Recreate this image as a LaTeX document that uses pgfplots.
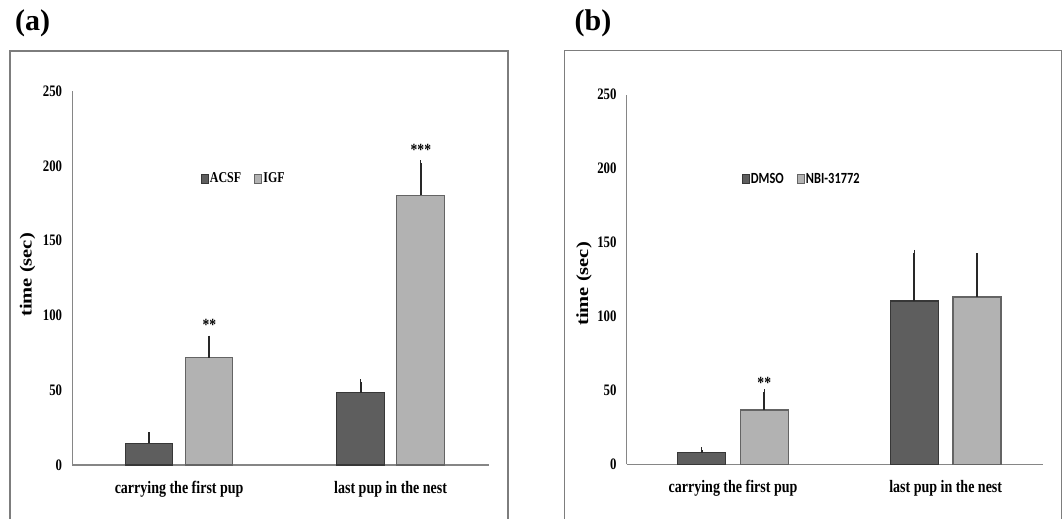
\documentclass[border=0pt]{standalone}
\usepackage{fontspec}
\setmainfont{Liberation Serif}[FakeStretch=0.8]
\newfontfamily\plainserif{Liberation Serif}
\newfontfamily\calib{Carlito}[FakeStretch=0.8]
\usepackage{pgfplots}
\pgfplotsset{compat=1.18}

\definecolor{darkbar}{RGB}{94,94,94}
\definecolor{darkedge}{RGB}{55,55,55}
\definecolor{lightbar}{RGB}{178,178,178}
\definecolor{lightedge}{RGB}{100,100,100}
\definecolor{axisgrey}{RGB}{134,134,134}
\definecolor{boxgrey}{RGB}{125,125,125}
\definecolor{errcol}{RGB}{40,40,40}

\pgfplotsset{
  panel/.style={
    scale only axis,
    anchor=south west,
    ymin=0, ymax=250,
    ytick={0,50,...,250},
    xtick={0,1},
    xticklabels={carrying the first pup, last pup in the nest},
    axis x line*=bottom,
    axis y line*=left,
    axis line style={draw=axisgrey, line width=1.5pt},
    major tick length=0pt,
    /pgf/number format/assume math mode=true,
    yticklabel style={font=\fontsize{16}{18}\selectfont\bfseries, anchor=east, inner sep=0pt, xshift=-10pt},
    xticklabel style={font=\fontsize{17.5}{20}\selectfont\bfseries, anchor=north, inner sep=0pt, yshift=-16pt},
    clip=false,
    legend style={draw=none, fill=none, inner sep=0pt, anchor=west,
      nodes={inner sep=1.2pt},
      /tikz/every even column/.append style={column sep=12pt}},
    legend columns=-1,
  },
  darkkey/.style={legend image code/.code={\draw[fill=darkbar, draw=darkedge, line width=0.8pt] (0pt,-4.5pt) rectangle (7pt,4.5pt);}},
  lightkey/.style={legend image code/.code={\draw[fill=lightbar, draw=lightedge, line width=0.8pt] (0pt,-4.5pt) rectangle (7pt,4.5pt);}},
  errbars/.style={
    error bars/.cd, y dir=plus, y explicit,
    error bar style={line width=2pt, errcol},
    error mark options={line width=1.6pt, errcol, mark size=2.8pt},
  },
}

\begin{document}
\begin{tikzpicture}
\useasboundingbox (0pt,0pt) rectangle (1063pt,519pt);

% frames
\draw[boxgrey, line width=1.5pt] (10pt,0pt) -- (10pt,468pt) -- (508pt,468pt) -- (508pt,0pt);
\draw[boxgrey, line width=1.5pt] (564.3pt,0pt) -- (564.3pt,468.3pt) -- (1061.7pt,468.3pt) -- (1061.7pt,0pt);

% panel (a)
\begin{axis}[panel,
  at={(72.3pt,54pt)}, width=416.7pt, height=374pt,
  xmin=-0.505, xmax=1.465,
  ybar=12.5pt, bar width=47.5pt,
  legend style={at={(axis description cs:0.308,0.766)}, font=\fontsize{15}{17}\selectfont\bfseries},
]
\addlegendimage{darkkey}
\addlegendentry{ACSF}
\addlegendimage{lightkey}
\addlegendentry{IGF}
\addplot[fill=darkbar, draw=darkedge, line width=1.2pt, errbars]
  coordinates {(0,14.5) +- (0,5.5) (1,48.3) +- (0,7.1)};
\addplot[fill=lightbar, draw=lightedge, line width=1.2pt, errbars]
  coordinates {(0,71.7) +- (0,12.9) (1,180.2) +- (0,21.8)};
\node[font=\fontsize{17}{19}\selectfont\bfseries] at (axis cs:0.143,93.5) {**};
\node[font=\fontsize{17}{19}\selectfont\bfseries] at (axis cs:1.143,210.5) {***};
\end{axis}

% panel (b)
\begin{axis}[panel,
  at={(626.7pt,54.7pt)}, width=416.6pt, height=369.6pt,
  xmin=-0.5, xmax=1.459,
  ybar=14.7pt, bar width=48pt,
  legend style={at={(axis description cs:0.276,0.771)}, font=\calib\fontsize{15.5}{18}\selectfont\bfseries},
]
\addlegendimage{darkkey}
\addlegendentry{DMSO}
\addlegendimage{lightkey}
\addlegendentry{NBI-31772}
\addplot[fill=darkbar, draw=darkedge, line width=1.2pt, errbars]
  coordinates {(0,7.8) +- (0,1.9) (1,110.4) +- (0,32.7)};
\addplot[fill=lightbar, draw=lightedge, line width=1.2pt, errbars]
  coordinates {(0,36.7) +- (0,12.2) (1,113.2) +- (0,27.7)};
\node[font=\fontsize{17}{19}\selectfont\bfseries] at (axis cs:0.147,54.8) {**};
\end{axis}

% axis titles and panel letters
\node[rotate=90] at (27.5pt,244pt) {\scalebox{1}[0.83]{\plainserif\bfseries\fontsize{20.5}{24}\selectfont time (sec)}};
\node[rotate=90] at (584pt,235pt) {\scalebox{1}[0.83]{\plainserif\bfseries\fontsize{20.5}{24}\selectfont time (sec)}};
\node at (32.5pt,496.2pt) {\plainserif\bfseries\fontsize{30}{33}\selectfont (a)};
\node at (593pt,495.5pt) {\plainserif\bfseries\fontsize{30}{33}\selectfont (b)};
\end{tikzpicture}
\end{document}
